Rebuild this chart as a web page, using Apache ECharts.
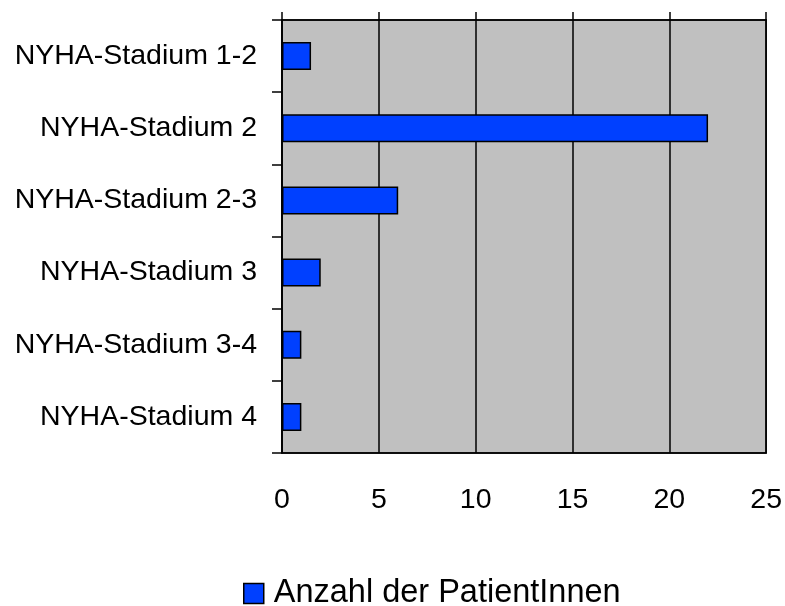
<!DOCTYPE html>
<html>
<head>
<meta charset="utf-8">
<script src="https://cdn.jsdelivr.net/npm/echarts@6/dist/echarts.min.js"></script>
<style>html,body{margin:0;padding:0;background:#fff}#c{width:785px;height:606px}</style>
</head>
<body>
<div id="c"></div>
<script>
const categories = ['NYHA-Stadium 1-2','NYHA-Stadium 2','NYHA-Stadium 2-3','NYHA-Stadium 3','NYHA-Stadium 3-4','NYHA-Stadium 4'];
const values = [1.5, 22, 6, 2, 1, 1];
const seriesName = 'Anzahl der PatientInnen';
const xMin = 0, xMax = 25, xStep = 5;

const font = 'Liberation Sans, Arial, sans-serif';
const chart = echarts.init(document.getElementById('c'), null, {renderer:'canvas'});
chart.setOption({
  animation: false,
  backgroundColor: '#fff',
  grid: {left: 282, top: 20, right: 17, bottom: 153, show: true, backgroundColor: '#C0C0C0', borderColor: '#000', borderWidth: 1.5},
  legend: {
    top: 577, left: 243, padding: 0,
    icon: 'rect', itemWidth: 20, itemHeight: 20,
    itemStyle: {borderColor: '#000', borderWidth: 1.5},
    textStyle: {fontFamily: font, fontSize: 32.5, color: '#000', padding: [0, 0, 0, 5]},
    data: [seriesName]
  },
  xAxis: [
    {type: 'value', min: xMin, max: xMax, interval: xStep, position: 'bottom',
     axisLine: {show: true, lineStyle: {color: '#000', width: 1.5}},
     axisTick: {show: false},
     axisLabel: {fontFamily: font, fontSize: 28.5, color: '#000', margin: 33},
     splitLine: {show: true, lineStyle: {color: '#000', width: 1.5}}},
    {type: 'value', min: xMin, max: xMax, interval: xStep, position: 'top',
     axisLine: {show: true, lineStyle: {color: '#000', width: 1.5}},
     axisTick: {show: true, inside: false, length: 8, lineStyle: {color: '#000', width: 1.5}},
     axisLabel: {show: false},
     splitLine: {show: false}}
  ],
  yAxis: {
    type: 'category', data: categories, inverse: true,
    axisLine: {show: true, lineStyle: {color: '#000', width: 1.5}},
    axisTick: {show: true, inside: false, length: 10, lineStyle: {color: '#000', width: 1.5}},
    axisLabel: {fontFamily: font, fontSize: 28.5, color: '#000', margin: 25},
    splitLine: {show: false}
  },
  series: [{
    name: seriesName, type: 'bar', data: values, xAxisIndex: 0,
    barWidth: 28,
    itemStyle: {color: '#0040FF', borderColor: '#000', borderWidth: 1.5}
  }]
});
</script>
</body>
</html>
